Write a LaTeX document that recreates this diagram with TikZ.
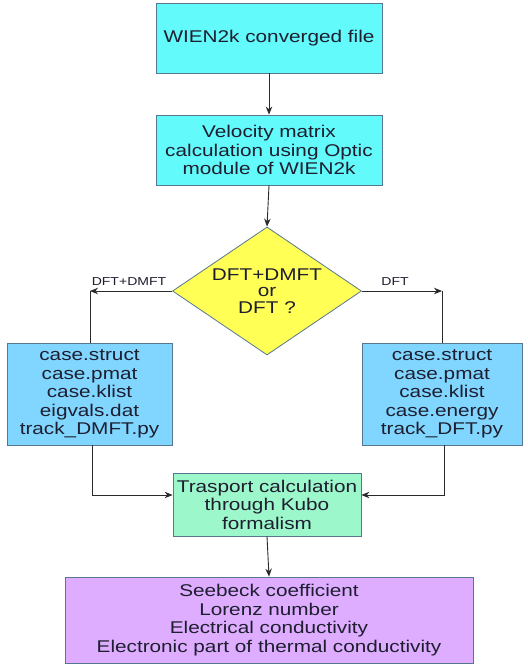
\documentclass[tikz,border=0pt]{standalone}
\usepackage{fontspec}
\setmainfont{Liberation Sans}[FakeStretch=1.22]
\usetikzlibrary{shapes.geometric,arrows.meta}
\definecolor{cyanbox}{HTML}{62FAFA}
\definecolor{bluebox}{HTML}{80D6FF}
\definecolor{greenbox}{HTML}{9CF7CA}
\definecolor{purplebox}{HTML}{DEADFF}
\definecolor{yellowbox}{HTML}{FFFF55}
\definecolor{edgecol}{HTML}{557790}
\definecolor{txtcol}{HTML}{1E1E30}
\definecolor{linecol}{HTML}{2A2A2A}
\tikzset{
  box/.style={draw=edgecol, line width=0.8pt, rectangle, inner sep=0pt, align=center,
    text=txtcol, font=\fontsize{17}{18.5}\selectfont},
  decision/.style={draw=edgecol, line width=0.8pt, diamond, aspect=1.48, inner sep=0pt,
    fill=yellowbox, align=center, text=txtcol, font=\fontsize{17}{16.8}\selectfont},
  conn/.style={draw=linecol, line width=0.9pt},
  arr/.style={conn, -{Stealth[length=8pt,width=6.5pt]}},
  lbl/.style={text=txtcol, font=\fontsize{11.5}{13}\selectfont, inner sep=0pt}
}
\begin{document}
\begin{tikzpicture}[x=1pt,y=1pt]
\useasboundingbox (0,0) rectangle (527,-671);
\node[box, fill=cyanbox, minimum width=226pt, minimum height=70pt] (b1) at (269,-38) {WIEN2k converged file};
\node[box, fill=cyanbox, minimum width=226pt, minimum height=70pt] (b2) at (269,-150) {Velocity matrix\\calculation using Optic\\module of WIEN2k};
\node[decision, minimum width=189pt, minimum height=128pt] (d) at (267,-291) {DFT+DMFT\\or\\DFT ?};
\node[box, fill=bluebox, minimum width=165pt, minimum height=102pt] (lb) at (89.5,-394) {case.struct\\case.pmat\\case.klist\\eigvals.dat\\track\_DMFT.py};
\node[box, fill=bluebox, minimum width=160pt, minimum height=102pt] (rb) at (442,-394) {case.struct\\case.pmat\\case.klist\\case.energy\\track\_DFT.py};
\node[box, fill=greenbox, minimum width=188pt, minimum height=63pt] (t) at (267,-504.5) {Trasport calculation\\through Kubo\\formalism};
\node[box, fill=purplebox, minimum width=408pt, minimum height=86pt] (p) at (269,-620) {Seebeck coefficient\\Lorenz number\\Electrical conductivity\\Electronic part of thermal conductivity};

\coordinate (lcorner) at (90,-291);
\coordinate (rcorner) at (442,-291);
\coordinate (lbend) at (92,-495);
\coordinate (rbend) at (444,-495);

\draw[arr] (b1.south) -- (b2.north);
\draw[arr] (b2.south) -- (d.north);
\draw[arr] (d.west) -- (lcorner);
\draw[conn] (lcorner) -- (lb.north -| lcorner);
\draw[arr] (d.east) -- (rcorner);
\draw[conn] (rcorner) -- (rb.north -| rcorner);
\draw[arr] (lb.south -| lbend) -- (lbend) -- (lbend -| t.west);
\draw[arr] (rb.south -| rbend) -- (rbend) -- (rbend -| t.east);
\draw[arr] (t.south) -- (p.north);

\node[lbl, anchor=base] (l1) at (129,-285) {DFT+DMFT};
\node[lbl, anchor=base] (l2) at (395,-285) {DFT};
\end{tikzpicture}
\end{document}
